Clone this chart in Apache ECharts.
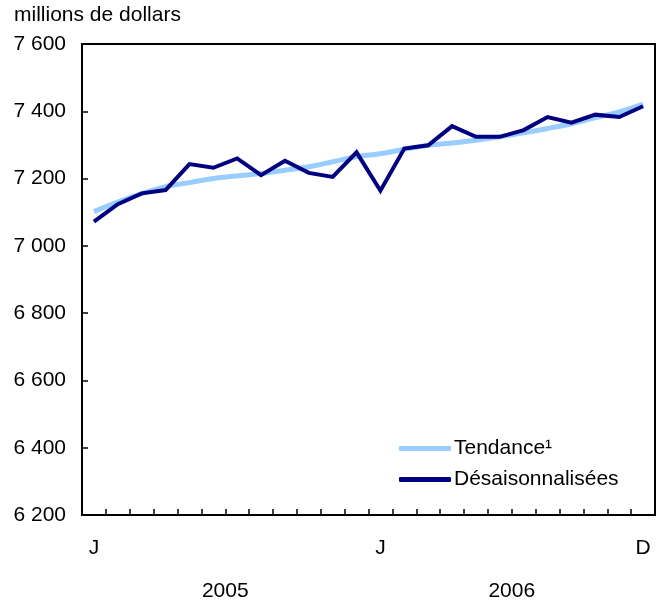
<!DOCTYPE html>
<html><head><meta charset="utf-8">
<script src="https://cdn.jsdelivr.net/npm/echarts@6/dist/echarts.min.js"></script>
<style>html,body{margin:0;padding:0;background:#fff}#c{width:663px;height:604px}</style>
</head><body><div id="c"></div>
<script>
const months = ['J','F','M','A','M','J','J','A','S','O','N','D','J','F','M','A','M','J','J','A','S','O','N','D'];
const monthLabelIdx = [0, 12, 23];
const years = ['2005', '2006'];
const trend = [7102,7130,7155,7176,7188,7200,7208,7215,7225,7235,7250,7265,7274,7287,7299,7306,7314,7324,7336,7349,7363,7381,7398,7421];
const seasAdj = [7072,7124,7156,7166,7243,7232,7260,7210,7253,7217,7205,7278,7164,7289,7299,7356,7324,7324,7344,7383,7366,7390,7383,7415];
const yTicks = {min: 6200, max: 7600, interval: 200};
const FONT = 'Liberation Sans, Arial, Helvetica, sans-serif';
const FS = 21;

const chart = echarts.init(document.getElementById('c'), null, {renderer: 'canvas'});
chart.setOption({
  animation: false,
  backgroundColor: '#fff',
  title: {text: 'millions de dollars', left: 9, top: 0, textStyle: {fontFamily: FONT, fontSize: FS, fontWeight: 'normal', color: '#000'}},
  grid: {left: 82, right: 8, top: 44, bottom: 89, show: true, borderColor: '#000', borderWidth: 2, containLabel: false},
  legend: {
    left: 394, top: 433, orient: 'vertical', itemGap: 10, itemWidth: 52, itemHeight: 5,
    icon: 'roundRect',
    textStyle: {fontFamily: FONT, fontSize: FS, color: '#000', padding: [0,0,0,-2]},
    data: ['Tendance¹', 'Désaisonnalisées']
  },
  xAxis: [{
    type: 'category', data: months, boundaryGap: true,
    axisLine: {lineStyle: {color: '#000', width: 2}},
    axisTick: {show: true, inside: true, length: 6, interval: 0, lineStyle: {color: '#000', width: 1.5}},
    axisLabel: {interval: 0, margin: 23, fontFamily: FONT, fontSize: FS, color: '#000',
      formatter: (v, i) => monthLabelIdx.includes(i) ? v : ''},
    splitLine: {show: false}
  }, {
    type: 'category', data: years, position: 'bottom', offset: 58, boundaryGap: true,
    axisLine: {show: false}, axisTick: {show: false}, splitLine: {show: false},
    axisLabel: {margin: 8, fontFamily: FONT, fontSize: FS, color: '#000'}
  }],
  yAxis: {
    type: 'value', min: yTicks.min, max: yTicks.max, interval: yTicks.interval,
    axisLine: {show: true, lineStyle: {color: '#000', width: 2}},
    axisTick: {show: true, inside: true, length: 6, lineStyle: {color: '#000', width: 1.5}},
    axisLabel: {margin: 16, fontFamily: FONT, fontSize: FS, color: '#000',
      formatter: v => String(v).replace(/\B(?=(\d{3})+(?!\d))/g, ' ')},
    splitLine: {show: false}
  },
  series: [{
    name: 'Tendance¹', type: 'line', data: trend, smooth: 0.3, symbol: 'none',
    itemStyle: {color: '#99CCFF'}, lineStyle: {color: '#99CCFF', width: 5}
  }, {
    name: 'Désaisonnalisées', type: 'line', data: seasAdj, symbol: 'none',
    itemStyle: {color: '#000080'}, lineStyle: {color: '#000080', width: 4, join: 'miter'}
  }]
});
</script></body></html>
